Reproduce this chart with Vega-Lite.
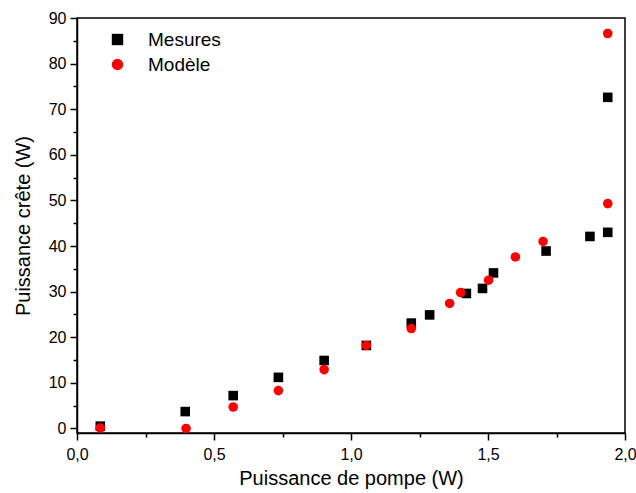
{
  "$schema": "https://vega.github.io/schema/vega-lite/v6.json",
  "width": 548,
  "height": 415,
  "autosize": {"type": "none"},
  "padding": {"left": 77, "top": 18, "right": 11, "bottom": 60},
  "background": "white",
  "config": {
    "view": {"stroke": "black", "strokeWidth": 1.5},
    "font": "Liberation Sans"
  },
  "data": {
    "values": [
      {"p": 0.085, "c": 0.5, "serie": "Mesures"},
      {"p": 0.395, "c": 3.7, "serie": "Mesures"},
      {"p": 0.570, "c": 7.2, "serie": "Mesures"},
      {"p": 0.735, "c": 11.2, "serie": "Mesures"},
      {"p": 0.902, "c": 14.9, "serie": "Mesures"},
      {"p": 1.056, "c": 18.2, "serie": "Mesures"},
      {"p": 1.220, "c": 23.1, "serie": "Mesures"},
      {"p": 1.287, "c": 24.9, "serie": "Mesures"},
      {"p": 1.421, "c": 29.6, "serie": "Mesures"},
      {"p": 1.480, "c": 30.7, "serie": "Mesures"},
      {"p": 1.520, "c": 34.1, "serie": "Mesures"},
      {"p": 1.712, "c": 38.9, "serie": "Mesures"},
      {"p": 1.872, "c": 42.1, "serie": "Mesures"},
      {"p": 1.937, "c": 43.0, "serie": "Mesures"},
      {"p": 1.937, "c": 72.6, "serie": "Mesures"},
      {"p": 0.085, "c": 0.1, "serie": "Modèle"},
      {"p": 0.398, "c": 0.0, "serie": "Modèle"},
      {"p": 0.570, "c": 4.7, "serie": "Modèle"},
      {"p": 0.735, "c": 8.3, "serie": "Modèle"},
      {"p": 0.902, "c": 12.9, "serie": "Modèle"},
      {"p": 1.056, "c": 18.2, "serie": "Modèle"},
      {"p": 1.220, "c": 21.9, "serie": "Modèle"},
      {"p": 1.360, "c": 27.4, "serie": "Modèle"},
      {"p": 1.400, "c": 29.8, "serie": "Modèle"},
      {"p": 1.502, "c": 32.5, "serie": "Modèle"},
      {"p": 1.600, "c": 37.6, "serie": "Modèle"},
      {"p": 1.701, "c": 41.0, "serie": "Modèle"},
      {"p": 1.937, "c": 49.3, "serie": "Modèle"},
      {"p": 1.937, "c": 86.6, "serie": "Modèle"}
    ]
  },
  "mark": {"type": "point", "filled": true, "opacity": 1, "size": 92},
  "encoding": {
    "x": {
      "field": "p", "type": "quantitative",
      "scale": {"domain": [0, 2], "nice": false, "zero": false},
      "axis": {
        "title": "Puissance de pompe (W)",
        "titleFont": "Liberation Sans", "titleFontSize": 20, "titleFontWeight": "normal", "titleColor": "black", "titlePadding": 6,
        "values": [0, 0.25, 0.5, 0.75, 1, 1.25, 1.5, 1.75, 2],
        "labelExpr": "datum.value % 0.5 === 0 ? replace(format(datum.value, '.1f'), '.', ',') : ''",
        "labelFont": "Liberation Sans", "labelFontSize": 16, "labelColor": "black", "labelPadding": 6,
        "labelFlush": false, "labelOverlap": false,
        "tickSize": {"condition": {"test": "datum.value % 0.5 === 0", "value": 7}, "value": 4},
        "tickColor": "black", "tickWidth": 1.5,
        "domainColor": "black", "domainWidth": 1.5,
        "grid": false
      }
    },
    "y": {
      "field": "c", "type": "quantitative",
      "scale": {"domain": [-1, 90], "nice": false, "zero": false},
      "axis": {
        "title": "Puissance crête (W)",
        "titleFont": "Liberation Sans", "titleFontSize": 20, "titleFontWeight": "normal", "titleColor": "black", "titlePadding": 15,
        "values": [0, 5, 10, 15, 20, 25, 30, 35, 40, 45, 50, 55, 60, 65, 70, 75, 80, 85, 90],
        "labelExpr": "datum.value % 10 === 0 ? format(datum.value, 'd') : ''",
        "labelFont": "Liberation Sans", "labelFontSize": 16, "labelColor": "black", "labelPadding": 4,
        "labelFlush": false, "labelOverlap": false,
        "tickSize": {"condition": {"test": "datum.value % 10 === 0", "value": 7}, "value": 4},
        "tickColor": "black", "tickWidth": 1.5,
        "domainColor": "black", "domainWidth": 1.5,
        "grid": false
      }
    },
    "color": {
      "field": "serie", "type": "nominal",
      "scale": {"domain": ["Mesures", "Modèle"], "range": ["black", "#ff0000"]},
      "legend": {
        "title": null, "orient": "none", "legendX": 31, "legendY": 12,
        "labelFont": "Liberation Sans", "labelFontSize": 19, "labelColor": "black",
        "symbolSize": 130, "symbolStrokeWidth": 0, "labelOffset": 21, "rowPadding": 5,
        "symbolOpacity": 1
      }
    },
    "shape": {
      "field": "serie", "type": "nominal",
      "scale": {"domain": ["Mesures", "Modèle"], "range": ["square", "circle"]},
      "legend": null
    }
  }
}
